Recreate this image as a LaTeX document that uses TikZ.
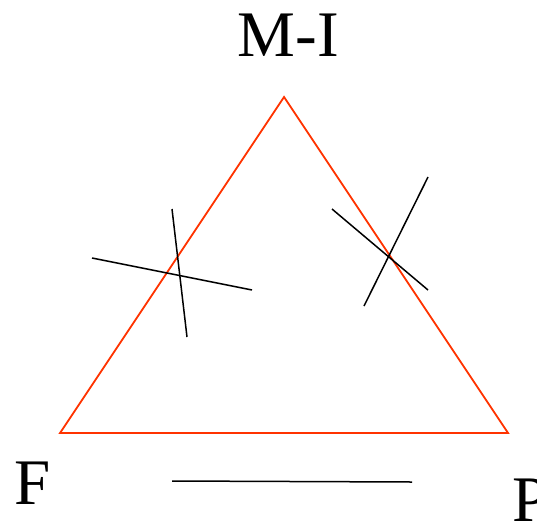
\documentclass[tikz,border=0pt]{standalone}
\usepackage{fontspec}
\setmainfont{Liberation Serif}
\definecolor{trired}{RGB}{255,51,0}
\begin{document}
\begin{tikzpicture}[x=1pt,y=-1pt,
  tri/.style={draw=trired,line width=1.8pt,line join=miter},
  mark line/.style={draw=black,line width=1.5pt},
  lbl/.style={inner sep=0pt,anchor=base west,font=\fontsize{65}{65}\selectfont}]
\useasboundingbox (0,0) rectangle (537,522);
\clip (0,0) rectangle (537,522);
\coordinate (A) at (284,97);
\coordinate (B) at (60,433);
\coordinate (C) at (508,433);
\draw[tri] (A) -- (B) -- (C) -- cycle;
\coordinate (l1a) at (92,258); \coordinate (l1b) at (252,290);
\coordinate (l2a) at (172,209); \coordinate (l2b) at (187,337);
\coordinate (r1a) at (332,209); \coordinate (r1b) at (428,290);
\coordinate (r2a) at (428,177); \coordinate (r2b) at (364,306);
\coordinate (ba) at (172,481); \coordinate (bb) at (412,482);
\draw[mark line] (l1a) -- (l1b);
\draw[mark line] (l2a) -- (l2b);
\draw[mark line] (r1a) -- (r1b);
\draw[mark line] (r2a) -- (r2b);
\draw[mark line] (ba) -- (bb);
\node[lbl,anchor=base] (MI) at (288.5,56) {M-I};
\node[lbl] (F) at (14,504) {F};
\node[lbl] (P) at (512,521) {P};
\end{tikzpicture}
\end{document}
